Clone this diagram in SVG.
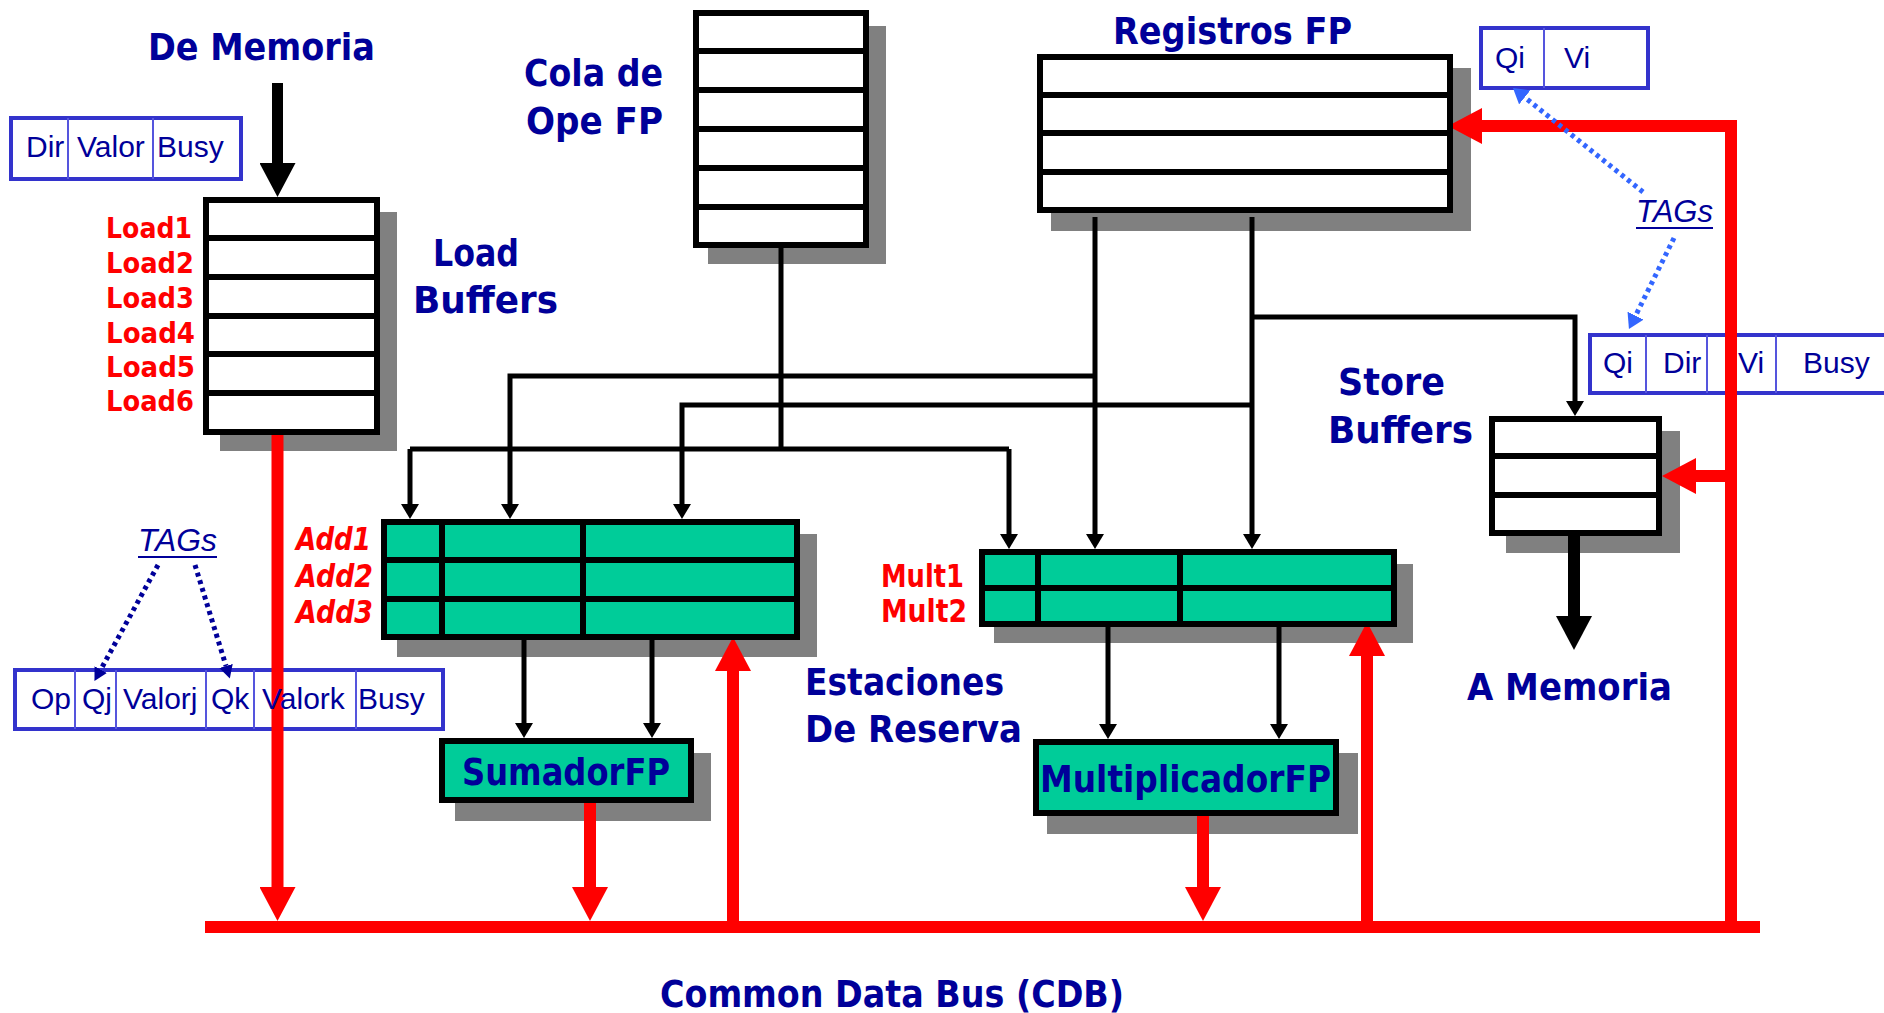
<svg xmlns="http://www.w3.org/2000/svg" width="1884" height="1013" viewBox="0 0 1884 1013">
  <style>
    .title { font-family: "DejaVu Sans", "Liberation Sans", sans-serif; font-weight: bold; font-size: 38px; fill: #000099; }
    .tag { font-family: "DejaVu Sans", "Liberation Sans", sans-serif; font-weight: bold; font-size: 32px; fill: #ff0000; }
    .ld { font-size: 29px; }
    .field { font-family: "Liberation Sans", Arial, sans-serif; font-size: 30px; fill: #000099; }
    .tags { font-family: "Liberation Sans", Arial, sans-serif; font-style: italic; font-size: 31px; fill: #000099; }
    .shadow { fill: #808080; }
    .buf { fill: #ffffff; stroke: #000000; stroke-width: 6; }
    .rs { fill: #00cc99; stroke: #000000; stroke-width: 6; }
    .grid { stroke: #000000; stroke-width: 6; fill: none; }
    .fbox { fill: none; stroke: #3333cc; stroke-width: 4; }
    .fdiv { stroke: #5555dd; stroke-width: 2; fill: none; }
    .wire { fill: none; stroke: #000000; stroke-width: 5; stroke-linejoin: miter; }
    .cdb { fill: none; stroke: #ff0000; stroke-width: 12; stroke-linejoin: miter; }
    .dot { fill: none; stroke-width: 5; stroke-dasharray: 4 4; }
  </style>
  <defs>
    <marker id="ah" markerUnits="userSpaceOnUse" markerWidth="16" markerHeight="18" refX="0" refY="9" orient="auto">
      <path d="M0,0 L15,9 L0,18 z" fill="#000000"/>
    </marker>
    <marker id="bigBlack" markerUnits="userSpaceOnUse" markerWidth="35" markerHeight="36" refX="0" refY="18" orient="auto">
      <path d="M0,0 L34,18 L0,36 z" fill="#000000"/>
    </marker>
    <marker id="bigRed" markerUnits="userSpaceOnUse" markerWidth="35" markerHeight="36" refX="0" refY="18" orient="auto">
      <path d="M0,0 L34,18 L0,36 z" fill="#ff0000"/>
    </marker>
    <marker id="navyTip" markerUnits="userSpaceOnUse" markerWidth="14" markerHeight="14" refX="0" refY="7" orient="auto">
      <path d="M0,0 L13,7 L0,14 z" fill="#000099"/>
    </marker>
    <marker id="blueTip" markerUnits="userSpaceOnUse" markerWidth="16" markerHeight="18" refX="0" refY="9" orient="auto">
      <path d="M0,0 L15,9 L0,18 z" fill="#3366ff"/>
    </marker>
  </defs>

  <rect width="1884" height="1013" fill="#ffffff"/>

  <!-- drop shadows -->
  <g id="shadows">
    <rect class="shadow" x="220" y="212" width="177" height="239"/>
    <rect class="shadow" x="708" y="26" width="178" height="238"/>
    <rect class="shadow" x="1051" y="68" width="420" height="163"/>
    <rect class="shadow" x="1506" y="431" width="174" height="122"/>
    <rect class="shadow" x="397" y="534" width="420" height="123"/>
    <rect class="shadow" x="994" y="564" width="419" height="79"/>
    <rect class="shadow" x="455" y="753" width="256" height="68"/>
    <rect class="shadow" x="1047" y="753" width="311" height="81"/>
  </g>

  <!-- entry formats -->
  <g id="fmt-load">
    <rect class="fbox" x="11" y="118" width="230" height="61"/>
    <path class="fdiv" d="M68,118 V179 M153,118 V179"/>
    <text class="field" x="26" y="157">Dir</text>
    <text class="field" x="77" y="157">Valor</text>
    <text class="field" x="157" y="157">Busy</text>
  </g>
  <g id="fmt-reg">
    <rect class="fbox" x="1481" y="28" width="167" height="60"/>
    <path class="fdiv" d="M1544,28 V88"/>
    <text class="field" x="1495" y="68">Qi</text>
    <text class="field" x="1564" y="68">Vi</text>
  </g>
  <g id="fmt-store">
    <rect class="fbox" x="1590" y="335" width="310" height="58"/>
    <path class="fdiv" d="M1646,335 V393 M1707,335 V393 M1776,335 V393"/>
  </g>
  <g id="fmt-rs">
    <rect class="fbox" x="15" y="670" width="428" height="59"/>
    <path class="fdiv" d="M75,670 V729 M116,670 V729 M206,670 V729 M254,670 V729 M356,670 V729"/>
  </g>

  <!-- common data bus and result paths -->
  <g id="cdb-connectors">
    <rect x="205" y="921" width="1555" height="12" fill="#ff0000"/>
    <path class="cdb" d="M277.5,435 V887" marker-end="url(#bigRed)"/>
    <path class="cdb" d="M590,803 V887" marker-end="url(#bigRed)"/>
    <path class="cdb" d="M1203,816 V887" marker-end="url(#bigRed)"/>
    <path class="cdb" d="M733,927 V671" marker-end="url(#bigRed)"/>
    <path class="cdb" d="M1367,927 V656" marker-end="url(#bigRed)"/>
    <path class="cdb" d="M1731,927 V126 H1482" marker-end="url(#bigRed)"/>
    <path class="cdb" d="M1731,476 H1696" marker-end="url(#bigRed)"/>
  </g>

  <!-- field names drawn above the bus lines -->
  <g id="fmt-store-text">
    <text class="field" x="1603" y="373">Qi</text>
    <text class="field" x="1663" y="373">Dir</text>
    <text class="field" x="1738" y="373">Vi</text>
    <text class="field" x="1803" y="373">Busy</text>
  </g>
  <g id="fmt-rs-text">
    <text class="field" x="31" y="709">Op</text>
    <text class="field" x="82" y="709">Qj</text>
    <text class="field" x="123" y="709">Valorj</text>
    <text class="field" x="211" y="709">Qk</text>
    <text class="field" x="262" y="709">Valork</text>
    <text class="field" x="358" y="709">Busy</text>
  </g>

  <!-- operand wiring -->
  <g id="connectors">
    <path class="wire" d="M781,248 V449"/>
    <path class="wire" d="M410,449 H1009"/>
    <path class="wire" d="M410,449 V504" marker-end="url(#ah)"/>
    <path class="wire" d="M1009,449 V534" marker-end="url(#ah)"/>
    <path class="wire" d="M1095,217 V534" marker-end="url(#ah)"/>
    <path class="wire" d="M1095,376 H510 V504" marker-end="url(#ah)"/>
    <path class="wire" d="M1252,217 V534" marker-end="url(#ah)"/>
    <path class="wire" d="M1252,405 H682 V504" marker-end="url(#ah)"/>
    <path class="wire" d="M1252,317 H1575 V401" marker-end="url(#ah)"/>
    <path class="wire" d="M524,640 V723" marker-end="url(#ah)"/>
    <path class="wire" d="M652,640 V723" marker-end="url(#ah)"/>
    <path class="wire" d="M1108,627 V724" marker-end="url(#ah)"/>
    <path class="wire" d="M1279,627 V724" marker-end="url(#ah)"/>
    <path d="M277.5,83 V163" stroke="#000000" stroke-width="11" fill="none" marker-end="url(#bigBlack)"/>
    <path d="M1574,536 V616" stroke="#000000" stroke-width="12" fill="none" marker-end="url(#bigBlack)"/>
    <!-- tag pointers -->
    <path class="dot" stroke="#000099" d="M158,565 L100.7,669.7" marker-end="url(#navyTip)"/>
    <path class="dot" stroke="#000099" d="M195,565 L226,666" marker-end="url(#navyTip)"/>
    <path class="dot" stroke="#3366ff" d="M1643,192 L1524.7,97.4" marker-end="url(#blueTip)"/>
    <path class="dot" stroke="#3366ff" d="M1674,238 L1635.6,315.6" marker-end="url(#blueTip)"/>
  </g>

  <!-- load buffers -->
  <g id="load-buffers">
    <rect class="buf" x="206" y="200" width="171" height="232"/>
    <path class="grid" d="M206,238 H377 M206,277 H377 M206,316 H377 M206,354 H377 M206,393 H377"/>
    <text class="tag ld" x="106" y="238" textLength="86" lengthAdjust="spacingAndGlyphs">Load1</text>
    <text class="tag ld" x="106" y="273" textLength="88" lengthAdjust="spacingAndGlyphs">Load2</text>
    <text class="tag ld" x="106" y="308" textLength="88" lengthAdjust="spacingAndGlyphs">Load3</text>
    <text class="tag ld" x="106" y="343" textLength="89" lengthAdjust="spacingAndGlyphs">Load4</text>
    <text class="tag ld" x="106" y="377" textLength="89" lengthAdjust="spacingAndGlyphs">Load5</text>
    <text class="tag ld" x="106" y="411" textLength="88" lengthAdjust="spacingAndGlyphs">Load6</text>
  </g>

  <!-- instruction queue -->
  <g id="op-queue">
    <rect class="buf" x="696" y="13" width="170" height="232"/>
    <path class="grid" d="M696,51 H866 M696,90 H866 M696,129 H866 M696,168 H866 M696,207 H866"/>
  </g>

  <!-- FP register file -->
  <g id="fp-registers">
    <rect class="buf" x="1040" y="57" width="410" height="153"/>
    <path class="grid" d="M1040,95 H1450 M1040,133 H1450 M1040,172 H1450"/>
  </g>

  <!-- store buffers -->
  <g id="store-buffers">
    <rect class="buf" x="1492" y="419" width="167" height="114"/>
    <path class="grid" d="M1492,456 H1659 M1492,495 H1659"/>
  </g>

  <!-- adder reservation stations -->
  <g id="add-stations">
    <rect class="rs" x="384" y="522" width="413" height="115"/>
    <path class="grid" d="M384,560 H797 M384,599 H797 M442,522 V637 M583,522 V637"/>
    <text class="tag" font-style="italic" x="296" y="550" textLength="75" lengthAdjust="spacingAndGlyphs">Add1</text>
    <text class="tag" font-style="italic" x="296" y="587" textLength="77" lengthAdjust="spacingAndGlyphs">Add2</text>
    <text class="tag" font-style="italic" x="296" y="623" textLength="77" lengthAdjust="spacingAndGlyphs">Add3</text>
  </g>

  <!-- multiplier reservation stations -->
  <g id="mult-stations">
    <rect class="rs" x="982" y="552" width="412" height="72"/>
    <path class="grid" d="M982,588 H1394 M1038,552 V624 M1180,552 V624"/>
    <text class="tag" x="881" y="587" textLength="83" lengthAdjust="spacingAndGlyphs">Mult1</text>
    <text class="tag" x="881" y="622" textLength="86" lengthAdjust="spacingAndGlyphs">Mult2</text>
  </g>

  <!-- functional units -->
  <g id="fp-adder">
    <rect class="rs" x="442" y="741" width="249" height="59"/>
    <text class="title" x="462" y="785" textLength="208" lengthAdjust="spacingAndGlyphs">SumadorFP</text>
  </g>
  <g id="fp-multiplier">
    <rect class="rs" x="1036" y="742" width="300" height="71"/>
    <text class="title" x="1040" y="792" textLength="291" lengthAdjust="spacingAndGlyphs">MultiplicadorFP</text>
  </g>

  <!-- labels -->
  <g id="labels">
    <text class="title" x="148" y="60" textLength="227" lengthAdjust="spacingAndGlyphs">De Memoria</text>
    <text class="title" x="524" y="86" textLength="139" lengthAdjust="spacingAndGlyphs">Cola de</text>
    <text class="title" x="526" y="134" textLength="137" lengthAdjust="spacingAndGlyphs">Ope FP</text>
    <text class="title" x="433" y="266" textLength="86" lengthAdjust="spacingAndGlyphs">Load</text>
    <text class="title" x="413" y="313" textLength="145" lengthAdjust="spacingAndGlyphs">Buffers</text>
    <text class="title" x="1113" y="44" textLength="239" lengthAdjust="spacingAndGlyphs">Registros FP</text>
    <text class="title" x="1338" y="395" textLength="107" lengthAdjust="spacingAndGlyphs">Store</text>
    <text class="title" x="1328" y="443" textLength="145" lengthAdjust="spacingAndGlyphs">Buffers</text>
    <text class="title" x="805" y="695" textLength="199" lengthAdjust="spacingAndGlyphs">Estaciones</text>
    <text class="title" x="805" y="742" textLength="217" lengthAdjust="spacingAndGlyphs">De Reserva</text>
    <text class="title" x="1467" y="700" textLength="205" lengthAdjust="spacingAndGlyphs">A Memoria</text>
    <text class="title" x="660" y="1007" textLength="464" lengthAdjust="spacingAndGlyphs">Common Data Bus (CDB)</text>
    <text class="tags" x="138" y="551" textLength="79" lengthAdjust="spacingAndGlyphs">TAGs</text>
    <path d="M138,557 H217" stroke="#000099" stroke-width="2"/>
    <text class="tags" x="1636" y="222" textLength="77" lengthAdjust="spacingAndGlyphs">TAGs</text>
    <path d="M1636,228 H1713" stroke="#000099" stroke-width="2"/>
  </g>
</svg>
